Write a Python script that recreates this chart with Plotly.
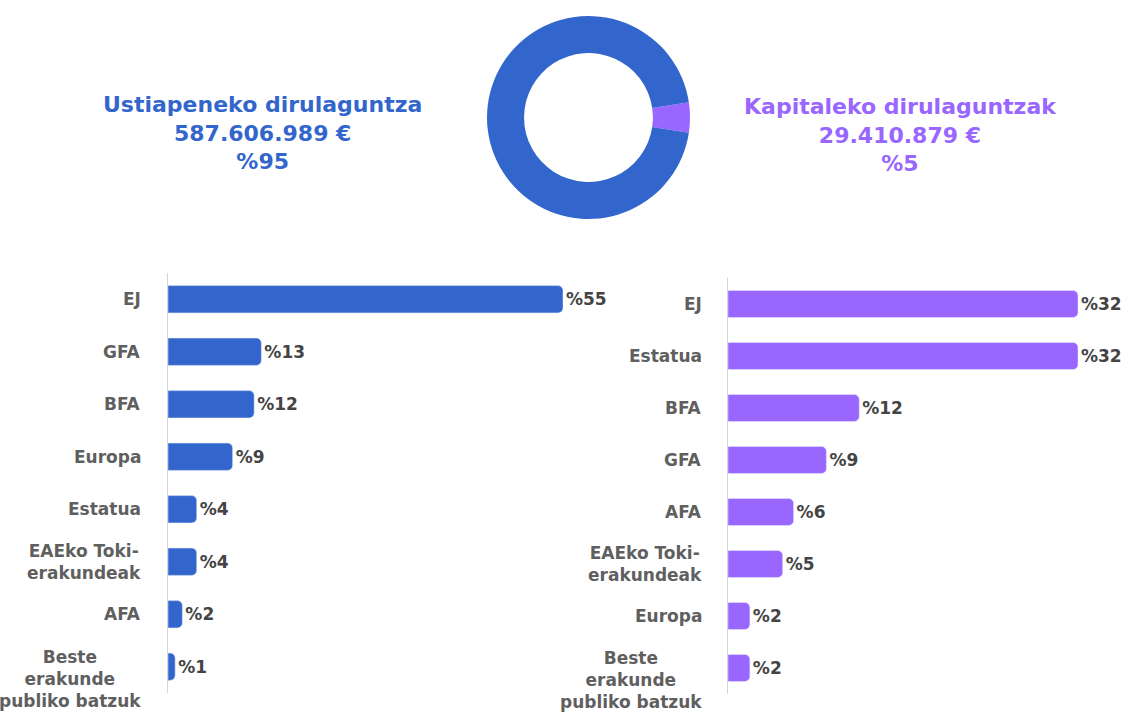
import plotly.graph_objects as go

# ---- data ----
donut_labels = ["Kapitaleko dirulaguntzak", "Ustiapeneko dirulaguntza"]
donut_values = [29410879, 587606989]
donut_amount_text = ["29.410.879 €", "587.606.989 €"]
donut_pct_text = ["%5", "%95"]

left_categories = ["EJ", "GFA", "BFA", "Europa", "Estatua", "EAEko Toki-<br>erakundeak", "AFA",
                   "Beste<br>erakunde<br>publiko batzuk"]
left_values = [55, 13, 12, 9, 4, 4, 2, 1]

right_categories = ["EJ", "Estatua", "BFA", "GFA", "AFA", "EAEko Toki-<br>erakundeak", "Europa",
                    "Beste<br>erakunde<br>publiko batzuk"]
right_values = [32, 32, 12, 9, 6, 5, 2, 2]

BLUE = "#3366CC"
PURPLE = "#9966FF"
FONT = "DejaVu Sans"
W, H = 1127, 715

fig = go.Figure()

# donut
frac = donut_values[0] / sum(donut_values)
fig.add_trace(go.Pie(
    labels=donut_labels, values=donut_values, hole=0.635, sort=False,
    direction="clockwise", rotation=90 - frac * 180,
    marker=dict(colors=[PURPLE, BLUE], line=dict(width=0)),
    textinfo="none", showlegend=False, hoverinfo="label+value",
    domain=dict(x=[487 / W, 690 / W], y=[1 - 219 / H, 1 - 16 / H]),
))

# bars
fig.add_trace(go.Bar(
    x=left_values, y=left_categories, orientation="h", xaxis="x", yaxis="y",
    marker=dict(color=BLUE, cornerradius=5), width=0.52,
    text=[f"%{v}" for v in left_values], textposition="outside", cliponaxis=False,
    textfont=dict(family=FONT, size=17, color="#444444", weight="bold"),
    showlegend=False,
))
fig.add_trace(go.Bar(
    x=right_values, y=right_categories, orientation="h", xaxis="x2", yaxis="y2",
    marker=dict(color=PURPLE, cornerradius=5), width=0.52,
    text=[f"%{v}" for v in right_values], textposition="outside", cliponaxis=False,
    textfont=dict(family=FONT, size=17, color="#444444", weight="bold"),
    showlegend=False,
))

annotations = []
# titles
annotations.append(dict(
    xref="paper", yref="paper", x=262 / W, y=1 - 133 / H, xanchor="center", yanchor="middle",
    text="<br>".join([donut_labels[1], donut_amount_text[1], donut_pct_text[1]]),
    showarrow=False, align="center",
    font=dict(family=FONT, size=22, color=BLUE, weight="bold"),
))
annotations.append(dict(
    xref="paper", yref="paper", x=900 / W, y=1 - 135 / H, xanchor="center", yanchor="middle",
    text="<br>".join([donut_labels[0], donut_amount_text[0], donut_pct_text[0]]),
    showarrow=False, align="center",
    font=dict(family=FONT, size=22, color=PURPLE, weight="bold"),
))
# category labels
for cats, xr, yr, shift in [(left_categories, "x domain", "y", -25), (right_categories, "x2 domain", "y2", -24)]:
    for c in cats:
        nlines = c.count("<br>") + 1
        annotations.append(dict(
            xref=xr, yref=yr, x=0, y=c, xanchor="right", yanchor="middle",
            xshift=shift, yshift=-12 if nlines > 2 else 0, text=c, showarrow=False, align="center",
            font=dict(family=FONT, size=17, color="#5f5f5f", weight="bold"),
        ))

left_scale = 395 / 55
right_scale = 350 / 32
fig.update_layout(
    width=W, height=H,
    margin=dict(l=0, r=0, t=0, b=0),
    paper_bgcolor="white", plot_bgcolor="white",
    bargap=0.48,
    xaxis=dict(domain=[168 / W, 0.55], range=[0, (0.55 * W - 168) / left_scale],
               visible=False, fixedrange=True),
    yaxis=dict(domain=[1 - 693 / H, 1 - 273 / H], autorange="reversed", showticklabels=False,
               showline=True, linecolor="#d6d6d6", linewidth=1, showgrid=False, zeroline=False,
               ticks="", anchor="x"),
    xaxis2=dict(domain=[728 / W, 0.995], range=[0, (0.995 * W - 728) / right_scale],
                visible=False, fixedrange=True, anchor="y2"),
    yaxis2=dict(domain=[1 - 694 / H, 1 - 278 / H], autorange="reversed", showticklabels=False,
                showline=True, linecolor="#d6d6d6", linewidth=1, showgrid=False, zeroline=False,
                ticks="", anchor="x2"),
    annotations=annotations,
)

fig.write_html("out.html", config={"displayModeBar": False},
               post_script="document.body.style.margin='0';")
